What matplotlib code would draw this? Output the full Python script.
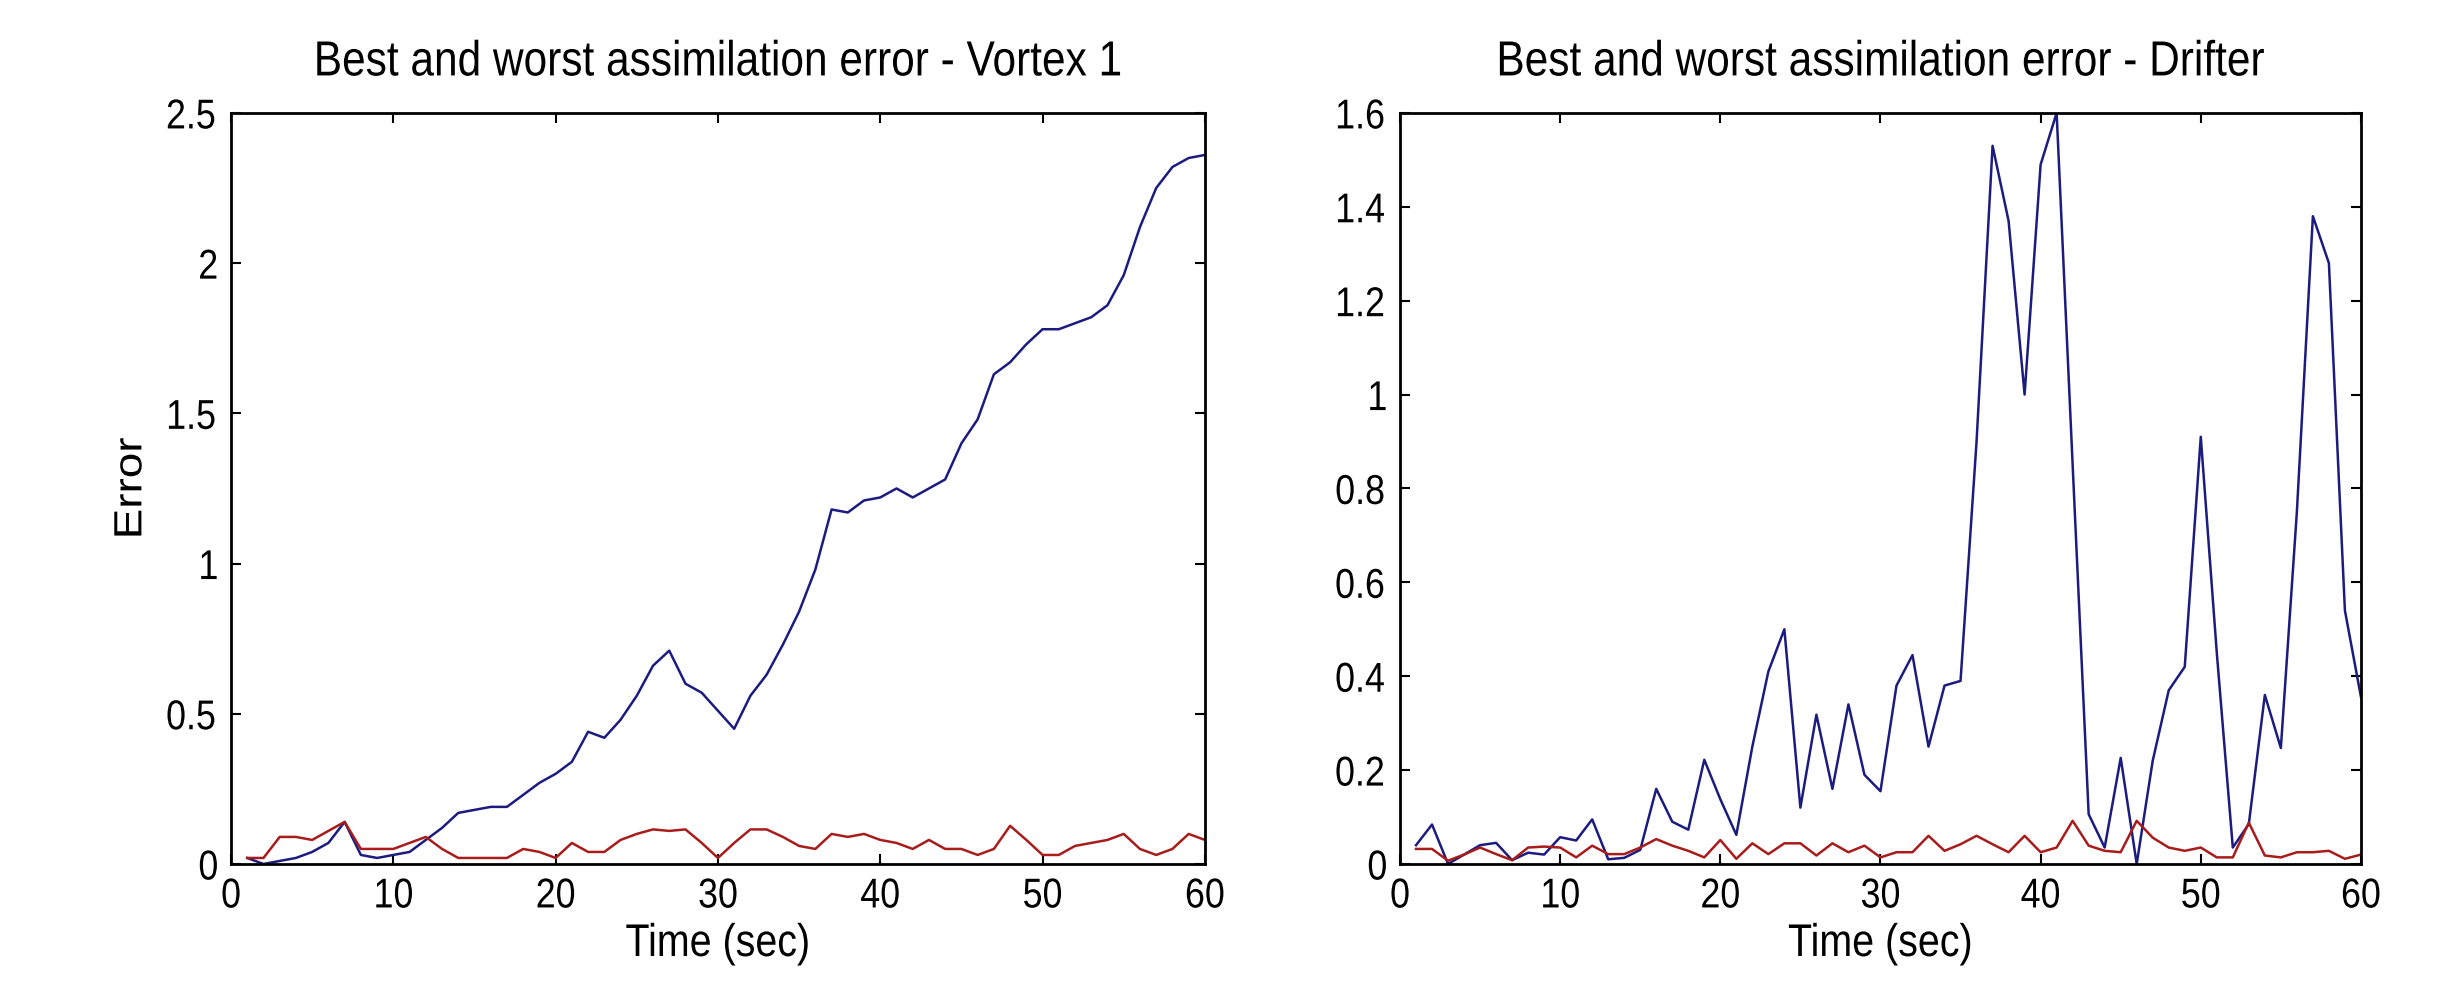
import numpy as np
import matplotlib
matplotlib.use('Agg')
import matplotlib.pyplot as plt
from matplotlib.ticker import FormatStrFormatter
from matplotlib.patheffects import AbstractPathEffect
from matplotlib.transforms import Affine2D

# time steps (sec)
t = np.arange(1, 61)

# Vortex 1 errors
vortex_worst = [0.02, 0.00, 0.01, 0.02, 0.04, 0.07, 0.14, 0.03, 0.02, 0.03,
                0.04, 0.08, 0.12, 0.17, 0.18, 0.19, 0.19, 0.23, 0.27, 0.30,
                0.34, 0.44, 0.42, 0.48, 0.56, 0.66, 0.71, 0.60, 0.57, 0.51,
                0.45, 0.56, 0.63, 0.73, 0.84, 0.98, 1.18, 1.17, 1.21, 1.22,
                1.25, 1.22, 1.25, 1.28, 1.40, 1.48, 1.63, 1.67, 1.73, 1.78,
                1.78, 1.80, 1.82, 1.86, 1.96, 2.12, 2.25, 2.32, 2.35, 2.36]
vortex_best = [0.02, 0.02, 0.09, 0.09, 0.08, 0.11, 0.14, 0.05, 0.05, 0.05,
               0.07, 0.09, 0.05, 0.02, 0.02, 0.02, 0.02, 0.05, 0.04, 0.02,
               0.07, 0.04, 0.04, 0.08, 0.10, 0.115, 0.11, 0.115, 0.07, 0.02,
               0.07, 0.115, 0.115, 0.09, 0.06, 0.05, 0.10, 0.09, 0.10, 0.08,
               0.07, 0.05, 0.08, 0.05, 0.05, 0.03, 0.05, 0.127, 0.08, 0.03,
               0.03, 0.06, 0.07, 0.08, 0.10, 0.05, 0.03, 0.05, 0.10, 0.08]

# Drifter errors
drifter_worst = [0.04, 0.084, 0.0, 0.02, 0.04, 0.045, 0.008, 0.024, 0.02, 0.057,
                 0.05, 0.095, 0.01, 0.013, 0.03, 0.16, 0.09, 0.073, 0.222, 0.138,
                 0.062, 0.25, 0.41, 0.50, 0.12, 0.318, 0.16, 0.34, 0.19, 0.155,
                 0.38, 0.445, 0.25, 0.38, 0.39, 0.90, 1.53, 1.37, 1.0, 1.49,
                 1.60, 0.85, 0.106, 0.035, 0.226, 0.0, 0.22, 0.37, 0.42, 0.91,
                 0.45, 0.035, 0.085, 0.36, 0.247, 0.75, 1.38, 1.28, 0.54, 0.356]
drifter_best = [0.032, 0.032, 0.007, 0.02, 0.035, 0.021, 0.008, 0.035, 0.037, 0.035,
                0.014, 0.039, 0.021, 0.021, 0.035, 0.053, 0.039, 0.028, 0.014, 0.051,
                0.011, 0.044, 0.021, 0.044, 0.044, 0.018, 0.044, 0.025, 0.039, 0.014,
                0.025, 0.025, 0.06, 0.028, 0.042, 0.06, 0.042, 0.025, 0.06, 0.025,
                0.035, 0.092, 0.039, 0.028, 0.025, 0.092, 0.056, 0.035, 0.028, 0.035,
                0.014, 0.014, 0.088, 0.018, 0.014, 0.025, 0.025, 0.028, 0.011, 0.02]


class Squeeze(AbstractPathEffect):
    """narrow the glyphs horizontally (on screen) around their own centre"""
    def __init__(self, sx):
        super().__init__()
        self.sx = sx

    def draw_path(self, renderer, gc, tpath, affine, rgbFace=None):
        ext = tpath.get_extents(affine)
        cx = (ext.x0 + ext.x1) / 2
        aff = affine + Affine2D().translate(-cx, 0).scale(self.sx, 1).translate(cx, 0)
        renderer.draw_path(gc, tpath, aff, rgbFace)


plt.rcParams['font.family'] = ['Liberation Sans', 'DejaVu Sans']
narrow = [Squeeze(0.86)]
blue = '#1c1c80'
red = '#a81c1c'

fig = plt.figure(figsize=(24.42, 9.82), dpi=100)
ax1 = fig.add_axes([0.0946, 0.1202, 0.3988, 0.7648])
ax2 = fig.add_axes([0.5733, 0.1202, 0.3935, 0.7648])

panels = [
    (ax1, vortex_worst, vortex_best, 'Best and worst assimilation error - Vortex 1',
     2.5, np.arange(0, 2.51, 0.5)),
    (ax2, drifter_worst, drifter_best, 'Best and worst assimilation error - Drifter',
     1.6, np.arange(0, 1.61, 0.2)),
]

for ax, worst, best, title, ymax, yticks in panels:
    ax.plot(t, worst, color=blue, lw=1.8)
    ax.plot(t, best, color=red, lw=1.8)
    ax.set_xlim(0, 60)
    ax.set_ylim(0, ymax)
    ax.set_xticks(np.arange(0, 61, 10))
    ax.set_yticks(yticks)
    ax.yaxis.set_major_formatter(FormatStrFormatter('%g'))
    ax.tick_params(direction='in', top=True, right=True, length=7, width=1.5,
                   labelsize=30)
    ax.tick_params(axis='x', pad=9)
    ax.tick_params(axis='y', pad=8)
    for s in ax.spines.values():
        s.set_linewidth(2)
    ttl = ax.set_title(title, fontsize=35.5, pad=27)
    xl = ax.set_xlabel('Time (sec)', fontsize=33, labelpad=4)
    for txt in [ttl, xl] + ax.get_xticklabels() + ax.get_yticklabels():
        txt.set_path_effects(narrow)

yl = ax1.set_ylabel('Error', fontsize=33, labelpad=6)
yl.set_path_effects(narrow)

fig.savefig('out.png', dpi=100)
